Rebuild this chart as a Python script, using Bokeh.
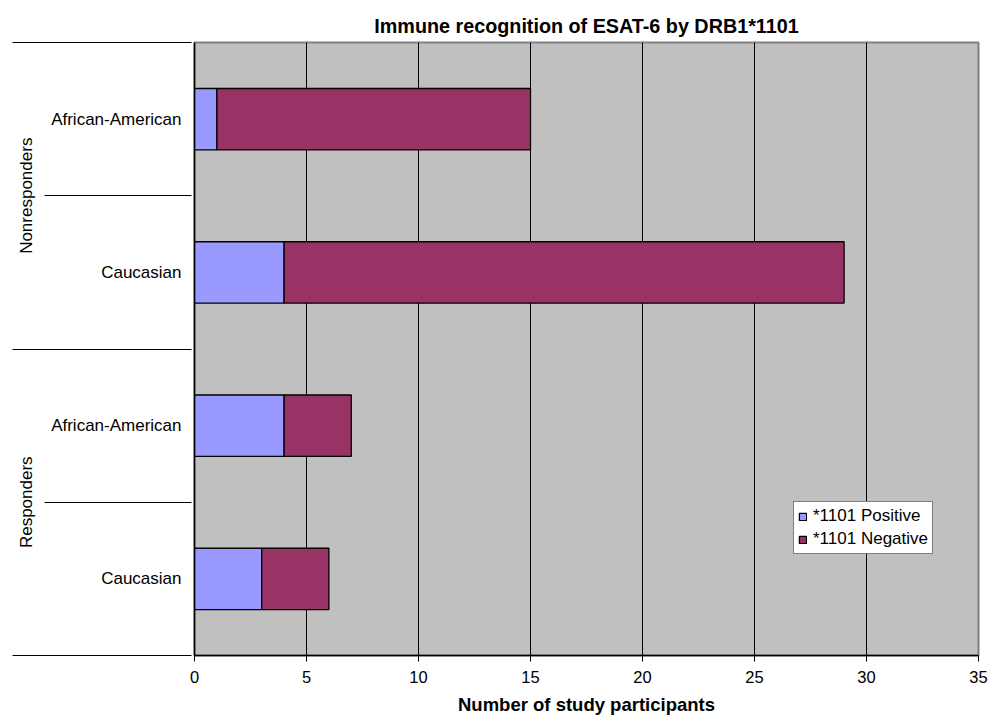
from bokeh.plotting import figure
from bokeh.models import (ColumnDataSource, FixedTicker, LinearAxis, Range1d,
                          Legend, LegendItem)
from bokeh.embed import file_html
from bokeh.resources import INLINE

# Rows listed bottom-up, as they stack on the chart
row_groups = ["Responders", "Responders", "Nonresponders", "Nonresponders"]
row_labels = ["Caucasian", "African-American", "Caucasian", "African-American"]
positive = [3, 4, 4, 1]     # *1101 Positive
negative = [3, 3, 25, 14]   # *1101 Negative
group_names = ["Responders", "Nonresponders"]
x_ticks = [0, 5, 10, 15, 20, 25, 30, 35]
x_grid = [5, 10, 15, 20, 25, 30]

FONT = "Liberation Sans"
POS_COLOR = "#9999FF"
NEG_COLOR = "#993366"

n_rows = len(row_labels)
y_pos = [i + 0.5 for i in range(n_rows)]
rows_per_group = n_rows // len(group_names)

src = ColumnDataSource(dict(
    y=y_pos,
    pos_left=[0] * n_rows,
    pos_right=positive,
    neg_left=positive,
    neg_right=[p + q for p, q in zip(positive, negative)],
))

p = figure(width=1002, height=718, output_backend="svg", toolbar_location=None,
           x_range=Range1d(x_ticks[0], x_ticks[-1]), y_range=Range1d(0, n_rows),
           x_axis_location=None, y_axis_location=None,
           min_border_left=194, min_border_right=24,
           min_border_top=42, min_border_bottom=63)

p.background_fill_color = "#C0C0C0"
p.border_fill_color = "white"
p.outline_line_color = "#808080"
p.outline_line_width = 2

# title
p.title.text = "Immune recognition of ESAT-6 by DRB1*1101"
p.title.align = "center"
p.title.text_font = FONT
p.title.text_font_size = "19.75px"
p.title.text_font_style = "bold"
p.title.text_color = "black"
p.title.standoff = 12

# bars
r_pos = p.hbar(y="y", left="pos_left", right="pos_right", height=0.4, source=src,
               fill_color=POS_COLOR, line_color="black", line_width=1.3)
r_neg = p.hbar(y="y", left="neg_left", right="neg_right", height=0.4, source=src,
               fill_color=NEG_COLOR, line_color="black", line_width=1.3)

# x axis
xaxis = LinearAxis(ticker=FixedTicker(ticks=x_ticks, minor_ticks=[]))
xaxis.axis_label = "Number of study participants"
xaxis.axis_label_text_font = FONT
xaxis.axis_label_text_font_size = "18.5px"
xaxis.axis_label_text_font_style = "bold"
xaxis.axis_label_text_color = "black"
xaxis.axis_label_standoff = 8
xaxis.major_label_text_font = FONT
xaxis.major_label_text_font_size = "16.5px"
xaxis.major_label_text_color = "black"
xaxis.major_label_standoff = 9
xaxis.major_tick_out = 6
xaxis.major_tick_in = 0
xaxis.major_tick_line_color = "black"
xaxis.axis_line_color = "black"
xaxis.axis_line_width = 1.5
p.add_layout(xaxis, "below")

# vertical grid lines
p.xgrid.ticker = FixedTicker(ticks=x_grid)
p.xgrid.grid_line_color = "black"
p.xgrid.grid_line_width = 1
p.ygrid.visible = False

# inner y axis: population labels only
yaxis = LinearAxis(ticker=FixedTicker(ticks=y_pos, minor_ticks=[]))
yaxis.major_label_overrides = {y: lab for y, lab in zip(y_pos, row_labels)}
yaxis.major_label_text_font = FONT
yaxis.major_label_text_font_size = "17px"
yaxis.major_label_text_color = "black"
yaxis.major_label_standoff = 13
yaxis.major_tick_out = 0
yaxis.major_tick_in = 0
yaxis.major_tick_line_color = None
yaxis.axis_line_color = "black"
yaxis.axis_line_width = 1.5
p.add_layout(yaxis, "left")

# middle y axis: response group labels; its inward ticks separate every row
group_centers = [rows_per_group * (g + 0.5) for g in range(len(group_names))]
group_edges = [rows_per_group * g for g in range(len(group_names) + 1)]
gaxis = LinearAxis(ticker=FixedTicker(ticks=group_centers,
                                      minor_ticks=list(range(n_rows + 1))))
gaxis.major_label_overrides = {c: name for c, name in zip(group_centers, group_names)}
gaxis.major_label_orientation = "parallel"
gaxis.major_label_text_font = FONT
gaxis.major_label_text_font_size = "17px"
gaxis.major_label_text_color = "black"
gaxis.major_label_standoff = 9
gaxis.major_tick_out = 0
gaxis.major_tick_in = 0
gaxis.major_tick_line_color = None
gaxis.minor_tick_out = 4
gaxis.minor_tick_in = 143
gaxis.minor_tick_line_color = "black"
gaxis.axis_line_color = None
p.add_layout(gaxis, "left")

# outer y axis: no labels, its minor ticks carry the group separators leftwards
eaxis = LinearAxis(ticker=FixedTicker(ticks=[], minor_ticks=group_edges))
eaxis.major_tick_line_color = None
eaxis.major_tick_out = 0
eaxis.major_tick_in = 0
eaxis.minor_tick_out = 1
eaxis.minor_tick_in = 40
eaxis.minor_tick_line_color = "black"
eaxis.axis_line_color = None
p.add_layout(eaxis, "left")

legend = Legend(items=[LegendItem(label="*1101 Positive", renderers=[r_pos]),
                       LegendItem(label="*1101 Negative", renderers=[r_neg])],
                location=(599, 101))
legend.label_text_font = FONT
legend.label_text_font_size = "17px"
legend.label_text_color = "black"
legend.glyph_width = 9
legend.glyph_height = 9
legend.label_height = 19
legend.label_standoff = 6
legend.spacing = 3
legend.padding = 4
legend.margin = 0
legend.border_line_color = "black"
legend.border_line_width = 1
legend.background_fill_color = "white"
legend.background_fill_alpha = 1
p.add_layout(legend)

open("out.html", "w").write(file_html(p, INLINE))
